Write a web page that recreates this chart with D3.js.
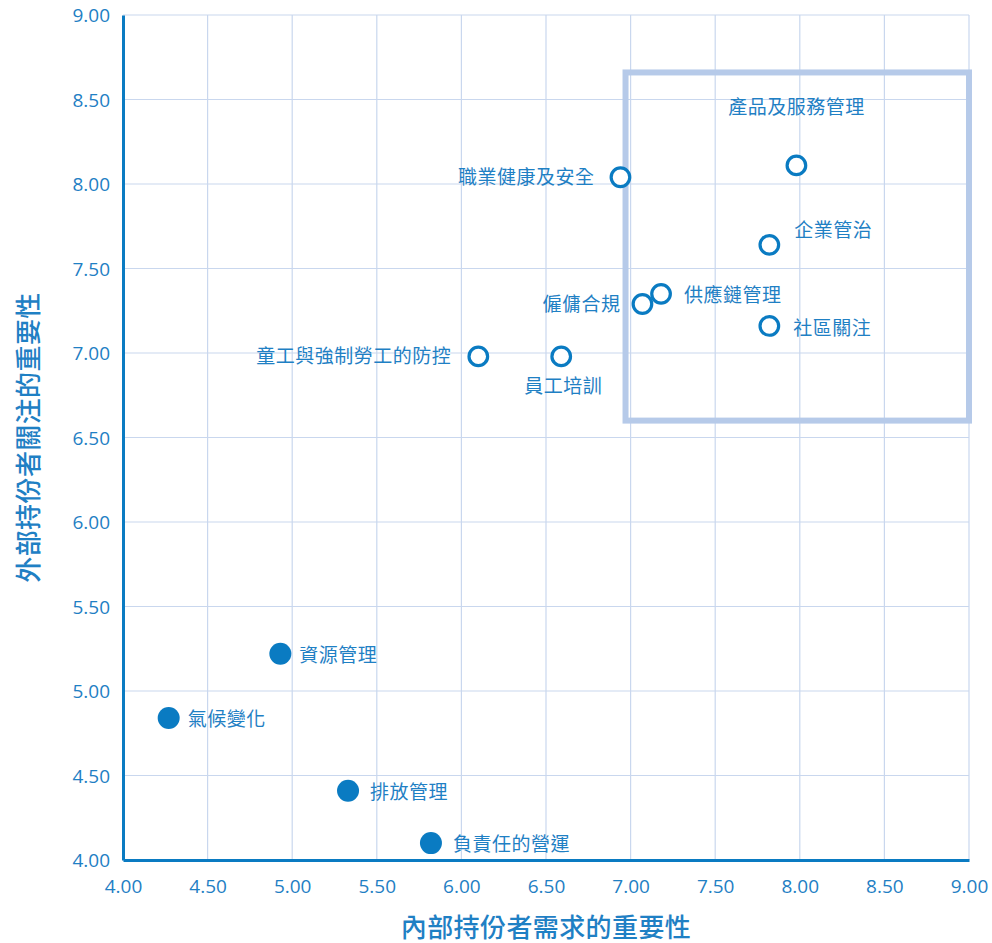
<!DOCTYPE html>
<html lang="zh-Hant">
  <head>
    <meta charset="UTF-8" />
    <title>重要性矩陣</title>
    <style>
      body { margin: 0; background: #fff; }
      svg text { font-family: "Open Sans", "Noto Sans CJK TC", sans-serif; }
      .cjk { font-family: "Noto Sans CJK TC", "Noto Sans", sans-serif; }
    </style>
  </head>
  <body>
    <svg id="chart" width="992" height="943"></svg>

    <script src="https://d3js.org/d3.v7.min.js"></script>
    <script>
      // data
      const topics = [
        "產品及服務管理", "職業健康及安全", "企業管治", "供應鏈管理", "僱傭合規", "社區關注",
        "童工與強制勞工的防控", "員工培訓", "資源管理", "氣候變化", "排放管理", "負責任的營運"
      ];
      const internalScore = [7.98, 6.94, 7.82, 7.18, 7.07, 7.82, 6.10, 6.59, 4.93, 4.27, 5.33, 5.82];
      const externalScore = [8.11, 8.04, 7.64, 7.35, 7.29, 7.16, 6.98, 6.98, 5.22, 4.84, 4.41, 4.10];
      const environmental = [false, false, false, false, false, false, false, false, true, true, true, true];
      const tickValues = [4, 4.5, 5, 5.5, 6, 6.5, 7, 7.5, 8, 8.5, 9];
      // highlighted quadrant [x0, x1, y0, y1]
      const highlightBox = [6.97, 9.0, 6.60, 8.66];

      // label placement: [dx, dy, anchor]
      const labelPlace = [
        [0, -58, "middle"], [-26, 0, "end"], [25, -15, "start"], [23, 1, "start"],
        [-22, 0, "end"], [24, 2, "start"], [-27, 0, "end"], [2, 30, "middle"],
        [19, 1, "start"], [19, 1, "start"], [22, 1, "start"], [22, 1, "start"]
      ];

      const blue = "#0a7bc2";
      const textBlue = "#1f80c4";
      const grid = "#c9d7ee";

      const margin = { left: 123, top: 15, right: 23, bottom: 83 };
      const svg = d3.select("#chart");
      const W = 992, H = 943;

      const x = d3.scaleLinear().domain([4, 9]).range([margin.left, W - margin.right]);
      const y = d3.scaleLinear().domain([4, 9]).range([H - margin.bottom, margin.top]);

      // grid
      svg.append("g")
        .selectAll("line.v")
        .data(tickValues.slice(1))
        .enter()
        .append("line")
        .attr("x1", d => x(d)).attr("x2", d => x(d))
        .attr("y1", y(9)).attr("y2", y(4))
        .attr("stroke", grid).attr("stroke-width", 1.2);

      svg.append("g")
        .selectAll("line.h")
        .data(tickValues.slice(1))
        .enter()
        .append("line")
        .attr("x1", x(4)).attr("x2", x(9))
        .attr("y1", d => y(d)).attr("y2", d => y(d))
        .attr("stroke", grid).attr("stroke-width", 1.2);

      // highlight box
      svg.append("rect")
        .attr("x", x(highlightBox[0]))
        .attr("y", y(highlightBox[3]))
        .attr("width", x(highlightBox[1]) - x(highlightBox[0]))
        .attr("height", y(highlightBox[2]) - y(highlightBox[3]))
        .attr("fill", "none")
        .attr("stroke", "#b6cae9")
        .attr("stroke-width", 6);

      // axes
      const xAxis = d3.axisBottom(x).tickValues(tickValues).tickFormat(d3.format(".2f")).tickSize(0).tickPadding(20);
      const yAxis = d3.axisLeft(y).tickValues(tickValues).tickFormat(d3.format(".2f")).tickSize(0).tickPadding(13);

      const gx = svg.append("g").attr("transform", `translate(0,${y(4)})`).call(xAxis);
      const gy = svg.append("g").attr("transform", `translate(${x(4)},0)`).call(yAxis);

      [gx, gy].forEach(g => {
        g.select(".domain").attr("stroke", blue).attr("stroke-width", 3);
        g.selectAll("text")
          .attr("fill", textBlue)
          .style("font-size", "19px")
          .style("font-family", "'Open Sans', sans-serif");
      });
      gy.selectAll("text").attr("dy", "0.36em");

      // points
      const pts = topics.map((t, i) => ({
        name: t, xi: internalScore[i], ye: externalScore[i], env: environmental[i], place: labelPlace[i]
      }));

      svg.append("g")
        .selectAll("circle")
        .data(pts)
        .enter()
        .append("circle")
        .attr("cx", d => x(d.xi))
        .attr("cy", d => y(d.ye))
        .attr("r", d => d.env ? 11 : 9.3)
        .attr("fill", d => d.env ? blue : "#fff")
        .attr("stroke", blue)
        .attr("stroke-width", d => d.env ? 0 : 3.2);

      svg.append("g")
        .selectAll("text")
        .data(pts)
        .enter()
        .append("text")
        .attr("class", "cjk")
        .attr("x", d => x(d.xi) + d.place[0])
        .attr("y", d => y(d.ye) + d.place[1])
        .attr("dy", "0.36em")
        .attr("text-anchor", d => d.place[2])
        .attr("fill", textBlue)
        .style("font-size", "19px")
        .style("letter-spacing", "0.5px")
        .text(d => d.name);

      // axis titles
      svg.append("text")
        .attr("class", "cjk")
        .attr("x", (x(4) + x(9)) / 2)
        .attr("y", 928)
        .attr("dy", "0.36em")
        .attr("text-anchor", "middle")
        .attr("fill", textBlue)
        .style("font-size", "26px")
        .style("font-weight", "500")
        .style("letter-spacing", "0.4px")
        .text("內部持份者需求的重要性");

      svg.append("text")
        .attr("class", "cjk")
        .attr("transform", `translate(29,${(y(4) + y(9)) / 2}) rotate(-90)`)
        .attr("dy", "0.36em")
        .attr("text-anchor", "middle")
        .attr("fill", textBlue)
        .style("font-size", "26px")
        .style("font-weight", "500")
        .style("letter-spacing", "0.4px")
        .text("外部持份者關注的重要性");
    </script>
  </body>
</html>
